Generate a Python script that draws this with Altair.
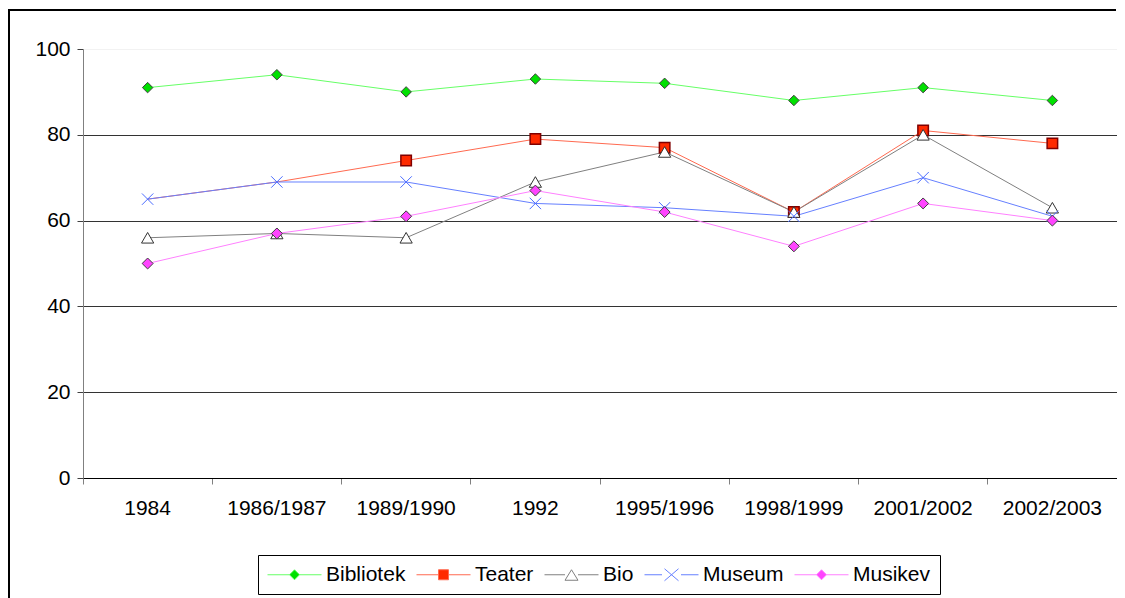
import altair as alt
import pandas as pd

# ---------------- data ----------------
categories = ["1984", "1986/1987", "1989/1990", "1992", "1995/1996",
              "1998/1999", "2001/2002", "2002/2003"]
series_names = ["Bibliotek", "Teater", "Bio", "Museum", "Musikev"]
bibliotek = [91, 94, 90, 93, 92, 88, 91, 88]
teater = [65, 69, 74, 79, 77, 62, 81, 78]
teater_marker = [False, False, True, True, True, True, True, True]
bio = [56, 57, 56, 69, 76, 62, 80, 63]
museum = [65, 69, 69, 64, 63, 61, 70, 61]
musikev = [50, 57, 61, 67, 62, 54, 64, 60]
y_ticks = [0, 20, 40, 60, 80, 100]

series_values = [bibliotek, teater, bio, museum, musikev]
series_markers = [[True] * 8, teater_marker, [True] * 8, [True] * 8, [True] * 8]

rows = []
for name, vals, marks in zip(series_names, series_values, series_markers):
    for cat, v, m in zip(categories, vals, marks):
        rows.append({"series": name, "cat": cat, "value": v, "marker": m})
df = pd.DataFrame(rows)

# ---------------- styles ----------------
FONT = "Liberation Sans"
W, H = 1034, 429

line_colors = ["#66ff66", "#ff6a50", "#808080", "#6680ff", "#ff80ff"]
marker_shapes = ["diamond", "square", "triangle-up", "M-1,-1L1,1M-1,1L1,-1", "diamond"]
marker_sizes = [110, 110, 150, 130, 120]
marker_fills = ["#00e000", "#ff2a00", "#ffffff", "transparent", "#ff44ff"]
marker_strokes = ["#404040", "#800000", "#333333", "#4a6cff", "#404040"]
marker_sw = [1, 1.5, 1, 1, 1]

legend_paths = [
    "M-2.7,0H-0.5M0.5,0H2.7M0,-0.5L0.5,0L0,0.5L-0.5,0Z",
    "M-2.7,0H-0.5M0.5,0H2.7M-0.5,-0.5H0.5V0.5H-0.5Z",
    "M-2.7,0H-0.65M0.65,0H2.7M0,-0.5L0.65,0.55H-0.65Z",
    "M-2.7,0H-0.95M0.95,0H2.7M-0.7,-0.6L0.7,0.6M-0.7,0.6L0.7,-0.6",
    "M-2.7,0H-0.5M0.5,0H2.7M0,-0.5L0.5,0L0,0.5L-0.5,0Z",
]
legend_fills = ["#00e000", "#ff2a00", "#ffffff", "transparent", "#ff44ff"]

x_enc = alt.X(
    "cat:N",
    sort=categories,
    scale=alt.Scale(type="band", domain=categories, paddingInner=0, paddingOuter=0),
    axis=alt.Axis(
        title=None, labelAngle=0, labelFont=FONT, labelFontSize=21,
        labelColor="black", domainColor="black", domainWidth=1,
        tickColor="#808080", tickSize=6, bandPosition=1, tickExtra=True,
        labelPadding=13, grid=False,
    ),
)
y_enc = alt.Y(
    "value:Q",
    scale=alt.Scale(domain=[0, 100], nice=False),
    axis=alt.Axis(
        values=y_ticks, title=None, labelFont=FONT, labelFontSize=21,
        labelColor="black", domainColor="#808080", domainWidth=1,
        tickColor="#404040", tickSize=6, labelPadding=7,
        grid=True, gridWidth=1,
        gridColor=alt.condition("datum.value === 100", alt.value("#f2f2f2"), alt.value("#333333")),
    ),
)

base = alt.Chart(df)

layers = []
# outer frame (left and top edges of the chart border)
one = pd.DataFrame({"k": [0]})
frame_left = alt.Chart(one).mark_rule(color="black", strokeWidth=2).encode(
    x=alt.value(-74), x2=alt.value(-74), y=alt.value(-40), y2=alt.value(H + 130)
)
frame_top = alt.Chart(one).mark_rule(color="black", strokeWidth=2).encode(
    x=alt.value(-75), x2=alt.value(W - 1), y=alt.value(-39), y2=alt.value(-39)
)
layers += [frame_left, frame_top]

for i, name in enumerate(series_names):
    line = base.mark_line(color=line_colors[i], strokeWidth=1).encode(
        x=x_enc, y=y_enc
    ).transform_filter(alt.datum.series == name)
    layers.append(line)
for i, name in enumerate(series_names):
    pts = base.mark_point(
        shape=marker_shapes[i], size=marker_sizes[i], filled=True,
        fill=marker_fills[i], stroke=marker_strokes[i], strokeWidth=marker_sw[i],
        opacity=1,
    ).encode(x=x_enc, y=y_enc).transform_filter(
        (alt.datum.series == name) & (alt.datum.marker == True)
    )
    layers.append(pts)

leg = alt.Legend(
    title=None, orient="none", legendX=175, legendY=506, direction="horizontal",
    labelFont=FONT, labelFontSize=21, labelColor="black",
    symbolSize=400, symbolStrokeWidth=1, symbolOffset=17, labelOffset=21,
    columnPadding=8, symbolOpacity=1,
    padding=9, strokeColor="black", fillColor="white",
)
legend_layer = base.mark_point(filled=True, size=0, strokeWidth=1, opacity=1).encode(
    x=x_enc, y=y_enc,
    shape=alt.Shape("series:N", sort=series_names,
                    scale=alt.Scale(domain=series_names, range=legend_paths), legend=leg),
    fill=alt.Fill("series:N", sort=series_names,
                  scale=alt.Scale(domain=series_names, range=legend_fills), legend=leg),
    stroke=alt.Stroke("series:N", sort=series_names,
                      scale=alt.Scale(domain=series_names, range=line_colors), legend=leg),
)
layers.append(legend_layer)

chart = alt.layer(*layers).properties(
    width=W, height=H,
    padding={"left": 75, "top": 41, "right": 0, "bottom": 120},
    autosize=alt.AutoSizeParams(type="none"),
    background="white",
).configure_view(strokeWidth=0)

chart.save("out.html", embed_options={"renderer": "svg", "actions": False})
